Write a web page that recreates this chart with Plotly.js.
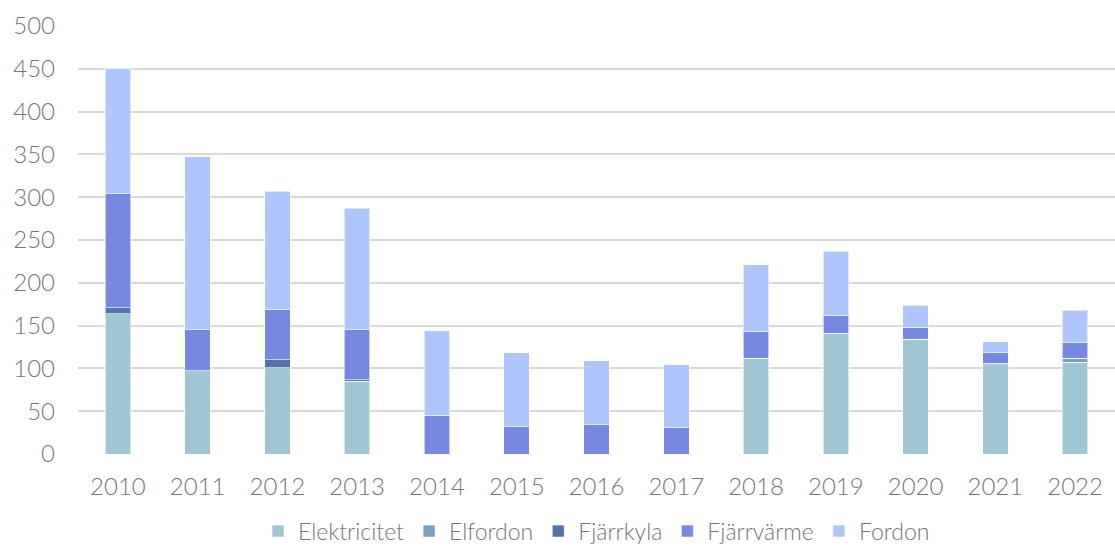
<!DOCTYPE html>
<html>
<head>
<meta charset="utf-8">
<script src="https://cdn.plot.ly/plotly-3.0.1.min.js"></script>
<style>html,body{margin:0;padding:0;background:#fff;}#chart{width:1115px;height:548px;}</style>
</head>
<body>
<div id="chart"></div>
<script>
const years = ['2010','2011','2012','2013','2014','2015','2016','2017','2018','2019','2020','2021','2022'];
const elektricitet = [164, 97, 101, 85, 0, 0, 0, 0, 112, 141, 134, 104, 107];
const elfordon     = [0, 0, 0, 0, 0, 0, 0, 0, 0, 0, 0, 0, 5];
const fjarrkyla    = [7, 0, 9, 1.5, 0, 0, 0, 0, 0, 0, 0, 2, 0];
const fjarrvarme   = [133, 48, 59, 58.5, 45, 32, 34, 31, 31, 21, 14, 12, 18];
const fordon       = [146, 202, 138, 142, 99, 86, 75, 73, 78, 75, 26, 13, 38];

const names = ['Elektricitet','Elfordon','Fjärrkyla','Fjärrvärme','Fordon'];
const series = [elektricitet, elfordon, fjarrkyla, fjarrvarme, fordon];
const colors = ['#9FC7D3','#7BA0C0','#5573A8','#7788E2','#AEC6FC'];

const traces = series.map((s,i)=>({
  type:'bar', name:names[i], x:years, y:s,
  marker:{color:colors[i], line:{color:'rgba(255,255,255,0.6)', width:1}},
  hoverinfo:'x+y+name'
}));

const tf = {family:'Lato, "Noto Sans", sans-serif', color:'#767676', size:24, weight:300};
const layout = {
  width:1115, height:548,
  barmode:'stack', bargap:0.68,
  margin:{l:78, r:0, t:26, b:94, autoexpand:false},
  paper_bgcolor:'#fff', plot_bgcolor:'#fff',
  font:tf,
  xaxis:{type:'category', automargin:false, showgrid:false, zeroline:false, showline:false, ticks:'', ticklabelstandoff:16, tickfont:tf},
  yaxis:{range:[0,500], dtick:50, automargin:false, showgrid:true, gridcolor:'#d9d9d9', gridwidth:2, zeroline:false, showline:false,
         ticks:'', ticklabelstandoff:22, tickfont:tf},
  showlegend:true,
  legend:{orientation:'h', x:0.5, xanchor:'center', y:-0.13, yanchor:'top', font:{family:tf.family, size:23, color:'#767676', weight:300}, itemwidth:30, traceorder:'normal'}
};
Plotly.newPlot('chart', traces, layout, {displayModeBar:false, staticPlot:true});
</script>
</body>
</html>
